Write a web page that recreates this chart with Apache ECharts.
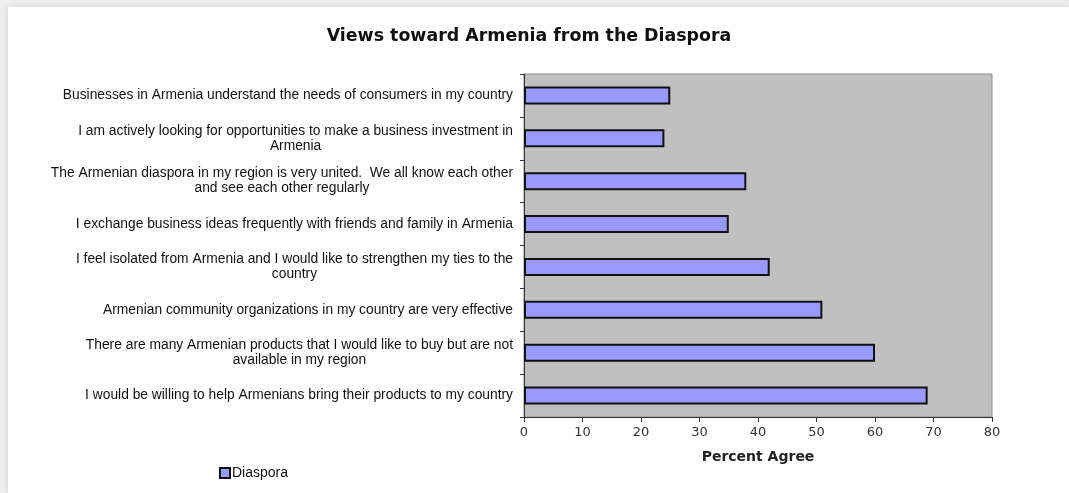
<!DOCTYPE html>
<html>
<head>
<meta charset="utf-8">
<script src="https://cdn.jsdelivr.net/npm/echarts@6/dist/echarts.min.js"></script>
<style>
  html, body { margin: 0; padding: 0; background: #eeeeee; }
  #frame { position: absolute; left: 8px; top: 7px; right: 0; bottom: 0; background: #fff;
           box-shadow: 0 0 6px rgba(0,0,0,0.12); }
  #main { position: absolute; left: 0; top: 0; width: 1069px; height: 493px; }
</style>
</head>
<body>
<div id="frame"></div>
<div id="main"></div>
<script>
// categories, top to bottom as in the picture
var statements = [
  'Businesses in Armenia understand the needs of consumers in my country',
  'I am actively looking for opportunities to make a business investment in\nArmenia',
  'The Armenian diaspora in my region is very united.  We all know each other\nand see each other regularly',
  'I exchange business ideas frequently with friends and family in Armenia',
  'I feel isolated from Armenia and I would like to strengthen my ties to the\ncountry',
  'Armenian community organizations in my country are very effective',
  'There are many Armenian products that I would like to buy but are not\navailable in my region',
  'I would be willing to help Armenians bring their products to my country'
];
// percent agree
var diaspora = [25, 24, 38, 35, 42, 51, 60, 69];

var font = '"Liberation Sans", Arial, sans-serif';
var wide = '"DejaVu Sans", sans-serif';

var myChart = echarts.init(document.getElementById('main'));
myChart.setOption({
  animation: false,
  title: {
    text: 'Views toward Armenia from the Diaspora',
    left: 524, top: 23, textAlign: 'center',
    textStyle: { fontFamily: wide, fontSize: 17.4, fontWeight: 'bold', color: '#111' }
  },
  legend: {
    data: ['Diaspora'],
    icon: 'rect',
    left: 214, top: 461,
    itemWidth: 10, itemHeight: 10, itemGap: 2,
    textStyle: { fontFamily: font, fontSize: 14, color: '#111', padding: [0, 0, 0, -3] }
  },
  grid: {
    left: 524, right: 77, top: 74, bottom: 76,
    show: true, backgroundColor: '#c0c0c0', borderColor: '#8c8c8c', borderWidth: 1
  },
  xAxis: {
    type: 'value', min: 0, max: 80, interval: 10,
    name: 'Percent Agree', nameLocation: 'middle', nameGap: 33,
    nameTextStyle: { fontFamily: wide, fontSize: 14, fontWeight: 'bold', color: '#222' },
    axisLine: { show: true, lineStyle: { color: '#333', width: 1 } },
    axisTick: { show: true, length: 5, lineStyle: { color: '#333' } },
    axisLabel: { fontFamily: wide, fontSize: 13, color: '#333', margin: 9 },
    splitLine: { show: false }
  },
  yAxis: {
    type: 'category', data: statements, inverse: true,
    axisLine: { show: true, lineStyle: { color: '#333', width: 1 } },
    axisTick: { show: true, length: 4, lineStyle: { color: '#333' } },
    axisLabel: {
      margin: 11,
      formatter: function (v) {
        return v.split('\n').map(function (s) { return '{c|' + s + '}'; }).join('\n');
      },
      rich: {
        c: { align: 'center', fontFamily: font, fontSize: 13.8, lineHeight: 15, color: '#111' }
      }
    }
  },
  series: [
    {
      name: 'Diaspora',
      type: 'bar',
      data: diaspora,
      barWidth: 18,
      itemStyle: { color: '#9999ff', borderColor: '#111', borderWidth: 2 }
    }
  ]
});
</script>
</body>
</html>
